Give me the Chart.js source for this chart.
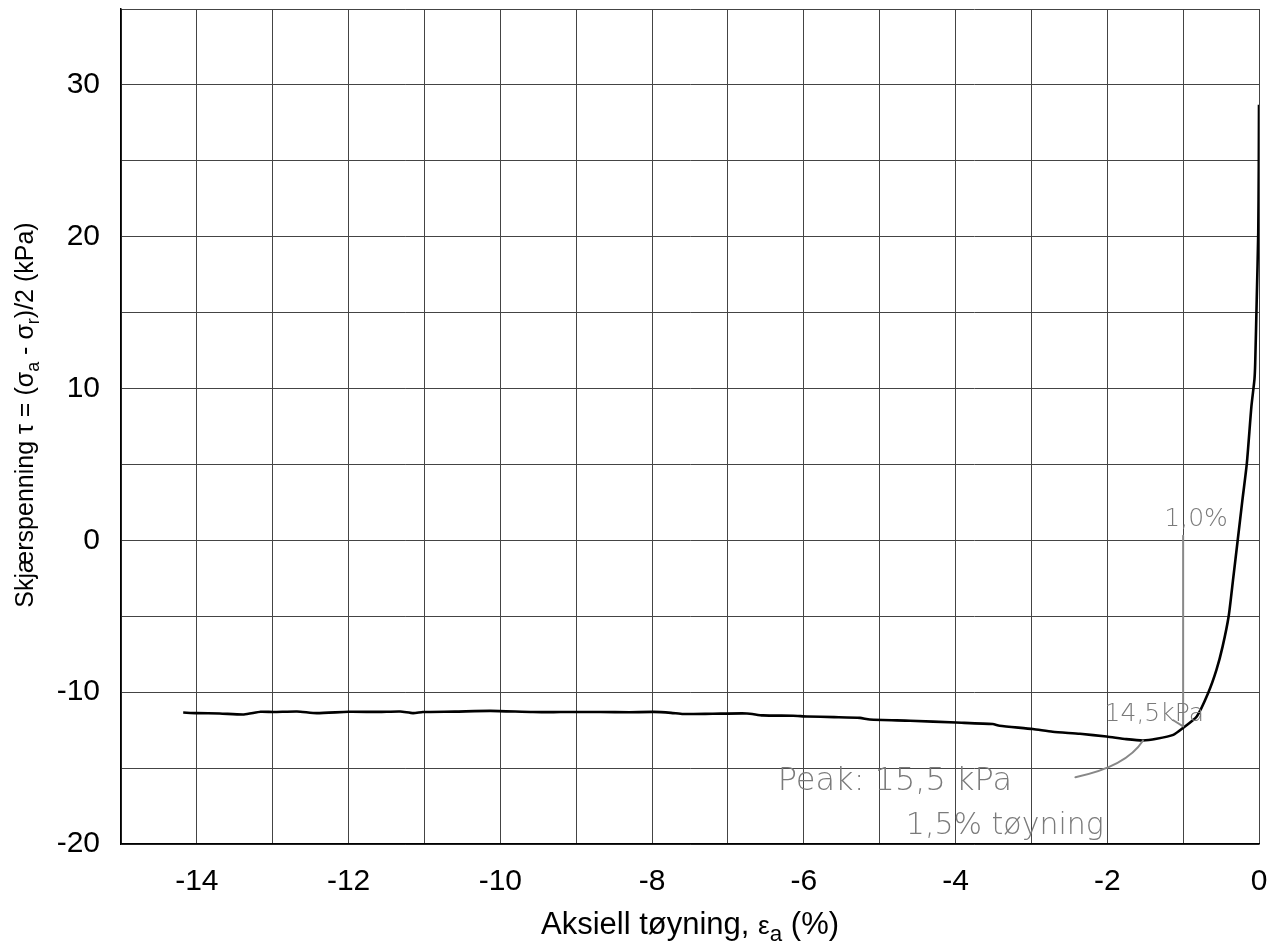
<!DOCTYPE html>
<html>
<head>
<meta charset="utf-8">
<script src="https://cdn.jsdelivr.net/npm/chart.js@4.4.0/dist/chart.umd.min.js"></script>
<style>
  html, body { margin: 0; padding: 0; background: #fff; }
  canvas { display: block; }
</style>
</head>
<body>
<canvas id="chart" width="1284" height="943"></canvas>
<script>
// axial strain (%) and shear stress (kPa)
var strain = [
  -14.18, -14.0, -13.7, -13.38, -13.16, -12.99, -12.68, -12.42, -12.0, -11.6,
  -11.32, -11.15, -11.02, -10.6, -10.13, -9.57, -9.21, -8.68, -8.3, -7.98,
  -7.75, -7.59, -7.2, -6.75, -6.54, -6.14, -5.96, -5.6, -5.26, -5.13,
  -4.6, -3.99, -3.51, -3.42, -2.98, -2.72, -2.36, -2.01, -1.75, -1.53,
  -1.35, -1.13, -1.0, -0.82, -0.67, -0.56, -0.48, -0.40, -0.34, -0.28,
  -0.22, -0.16, -0.10, -0.06, -0.05, -0.03, -0.01, -0.003, 0.0
];
var shear = [
  -11.34, -11.38, -11.40, -11.47, -11.29, -11.31, -11.27, -11.38, -11.29, -11.30,
  -11.27, -11.38, -11.31, -11.28, -11.23, -11.31, -11.31, -11.31, -11.32, -11.30,
  -11.36, -11.44, -11.42, -11.40, -11.53, -11.55, -11.60, -11.64, -11.69, -11.80,
  -11.88, -12.00, -12.10, -12.21, -12.43, -12.61, -12.74, -12.92, -13.09, -13.18,
  -13.07, -12.81, -12.35, -11.60, -10.06, -8.52, -7.0, -5.0, -2.5, 0.04,
  2.6, 5.09, 8.82, 10.6, 11.68, 15.85, 20.26, 24.63, 28.7
];

var xMin = -15, xMax = 0, xStep = 1;
var yMin = -20, yMax = 35, yStep = 5;

// handwritten notes on the sheet: [x, y, text, size]
var noteTexts = [
  [-0.83, 1.4, '1,0%', 25],
  [-1.38, -11.45, '14,5kPa', 25],
  [-4.80, -15.9, 'Peak: 15,5 kPa', 32],
  [-3.35, -18.85, '1,5% tøyning', 30]
];

var xTitle = [{ t: 'Aksiell tøyning, ' }, { t: 'ε', small: true }, { t: 'a', sub: true }, { t: ' (%)' }];
var yTitle = [{ t: 'Skjærspenning τ = (σ' }, { t: 'a', sub: true }, { t: ' - σ' }, { t: 'r', sub: true }, { t: ')/2 (kPa)' }];

var points = strain.map(function(x, i){ return { x: x, y: shear[i] }; });

function drawRich(ctx, parts, size, family){
    var widths = parts.map(function(p){
        var s = p.sub ? size * 0.72 : (p.small ? size * 0.85 : size);
        ctx.font = s + 'px ' + family;
        return ctx.measureText(p.t).width;
    });
    var total = widths.reduce(function(a, b){ return a + b; }, 0);
    var x = -total / 2;
    parts.forEach(function(p, i){
        var s = p.sub ? size * 0.72 : (p.small ? size * 0.85 : size);
        ctx.font = s + 'px ' + family;
        ctx.fillText(p.t, x, p.sub ? size * 0.22 : 0);
        x += widths[i];
    });
}

var titlesPlugin = {
    id: 'titles',
    afterDraw: function(chart){
        var ctx = chart.ctx;
        var area = chart.chartArea;
        ctx.save();
        ctx.fillStyle = '#000';
        ctx.textBaseline = 'alphabetic';
        ctx.textAlign = 'left';
        ctx.translate((area.left + area.right) / 2, 934);
        drawRich(ctx, xTitle, 31, '"Liberation Sans", Arial, sans-serif');
        ctx.restore();

        ctx.save();
        ctx.fillStyle = '#000';
        ctx.textBaseline = 'alphabetic';
        ctx.textAlign = 'left';
        ctx.translate(33, 415);
        ctx.rotate(-Math.PI / 2);
        drawRich(ctx, yTitle, 25, '"Liberation Sans", Arial, sans-serif');
        ctx.restore();
    }
};

var notesPlugin = {
    id: 'notes',
    afterDatasetsDraw: function(chart){
        var ctx = chart.ctx;
        var sx = chart.scales.x, sy = chart.scales.y;
        ctx.save();
        ctx.strokeStyle = '#888';
        ctx.fillStyle = '#7a7a7a';
        ctx.lineWidth = 2;
        ctx.lineCap = 'round';
        // pen line along the 1 % strain
        ctx.beginPath();
        ctx.moveTo(sx.getPixelForValue(-1.0), sy.getPixelForValue(0.3));
        ctx.lineTo(sx.getPixelForValue(-1.0), sy.getPixelForValue(-12.2));
        ctx.stroke();
        // pointer from the peak note to the curve
        ctx.beginPath();
        ctx.moveTo(sx.getPixelForValue(-2.42), sy.getPixelForValue(-15.6));
        ctx.quadraticCurveTo(sx.getPixelForValue(-1.75), sy.getPixelForValue(-14.9),
                             sx.getPixelForValue(-1.53), sy.getPixelForValue(-13.2));
        ctx.stroke();
        // small tick under 14,5 kPa
        ctx.beginPath();
        ctx.moveTo(sx.getPixelForValue(-1.13), sy.getPixelForValue(-11.85));
        ctx.lineTo(sx.getPixelForValue(-1.0), sy.getPixelForValue(-12.25));
        ctx.stroke();

        ctx.textAlign = 'center';
        ctx.textBaseline = 'middle';
        noteTexts.forEach(function(n){
            ctx.font = '300 ' + n[3] + 'px "DejaVu Sans", sans-serif';
            ctx.fillText(n[2], sx.getPixelForValue(n[0]), sy.getPixelForValue(n[1]));
        });
        ctx.restore();
    }
};

new Chart(document.getElementById('chart'), {
    type: 'scatter',
    data: {
        datasets: [{
            data: points,
            showLine: true,
            borderColor: '#000',
            borderWidth: 2.6,
            pointRadius: 0,
            tension: 0.2,
            fill: false
        }]
    },
    options: {
        responsive: false,
        animation: false,
        layout: { padding: { top: 9, right: 25, left: 0, bottom: 0 } },
        plugins: {
            legend: { display: false },
            tooltip: { enabled: false }
        },
        scales: {
            x: {
                type: 'linear',
                min: xMin,
                max: xMax,
                afterFit: function(scale){
                    scale.height = 99;
                    scale.paddingLeft = 0;
                    scale.paddingRight = 0;
                },
                ticks: {
                    stepSize: xStep,
                    padding: 20,
                    color: '#000',
                    font: { family: '"Liberation Sans", Arial, sans-serif', size: 30 },
                    autoSkip: false,
                    maxRotation: 0,
                    callback: function(v){ return v % 2 === 0 ? String(v) : ''; }
                },
                grid: { color: '#444', lineWidth: 1, drawTicks: false },
                border: { color: '#000', width: 1.5 }
            },
            y: {
                type: 'linear',
                min: yMin,
                max: yMax,
                afterFit: function(scale){
                    scale.width = 121;
                    scale.paddingTop = 0;
                    scale.paddingBottom = 0;
                },
                ticks: {
                    stepSize: yStep,
                    padding: 21,
                    color: '#000',
                    font: { family: '"Liberation Sans", Arial, sans-serif', size: 30 },
                    autoSkip: false,
                    callback: function(v){ return (v % 10 === 0 && v !== yMax) ? String(v) : ''; }
                },
                grid: { color: '#444', lineWidth: 1, drawTicks: false },
                border: { color: '#000', width: 1.5 }
            }
        }
    },
    plugins: [titlesPlugin, notesPlugin]
});
</script>
</body>
</html>
